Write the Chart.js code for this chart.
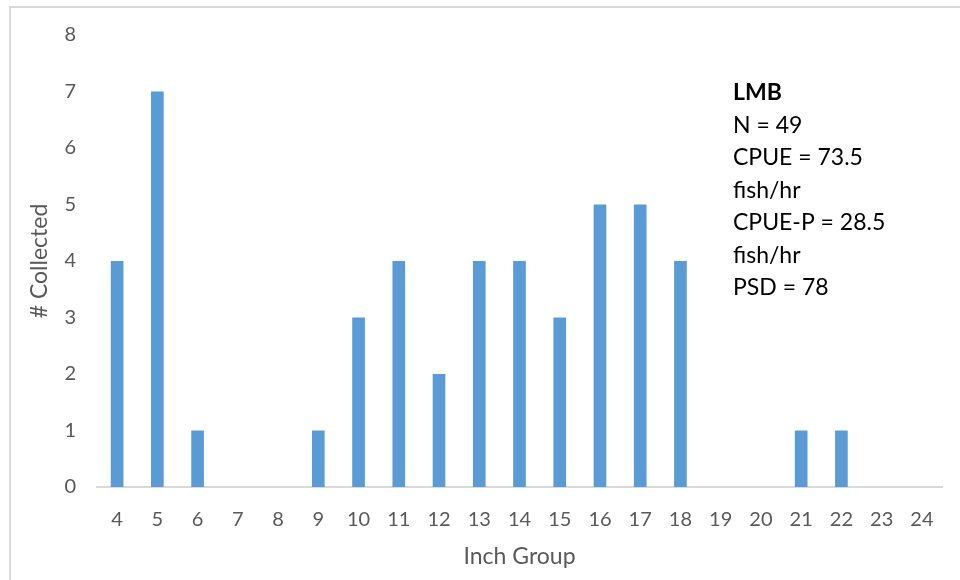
<!DOCTYPE html>
<html>
<head>
<meta charset="utf-8">
<script src="https://cdn.jsdelivr.net/npm/chart.js@4.4.0/dist/chart.umd.min.js"></script>
<style>
  html, body { margin: 0; padding: 0; background: #fff; }
  #wrap { position: relative; width: 960px; height: 580px; }
</style>
</head>
<body>
<div id="wrap"><canvas id="c" width="960" height="580"></canvas></div>
<script>
const inchGroups = ['4','5','6','7','8','9','10','11','12','13','14','15','16','17','18','19','20','21','22','23','24'];
const collected = [4, 7, 1, 0, 0, 1, 3, 4, 2, 4, 4, 3, 5, 5, 4, 0, 0, 1, 1, 0, 0];
const statsLines = ['LMB', 'N = 49', 'CPUE = 73.5', 'fish/hr', 'CPUE-P = 28.5', 'fish/hr', 'PSD = 78'];

const FONT = 'Lato, "Open Sans", sans-serif';
const GREY = '#595959';

// Frame around the chart and the stats text block
const decor = {
  id: 'decor',
  beforeDraw(chart) {
    const ctx = chart.ctx;
    ctx.save();
    ctx.fillStyle = '#fff';
    ctx.fillRect(0, 0, chart.width, chart.height);
    ctx.strokeStyle = '#d9d9d9';
    ctx.lineWidth = 2;
    ctx.strokeRect(10, 7, chart.width + 10, chart.height + 10);
    ctx.restore();
  },
  afterDraw(chart) {
    const ctx = chart.ctx;
    ctx.save();
    ctx.fillStyle = '#000';
    ctx.textBaseline = 'middle';
    ctx.textAlign = 'left';
    statsLines.forEach((t, i) => {
      ctx.font = (i === 0 ? 'bold ' : '') + '23px ' + FONT;
      ctx.fillText(t, 733, 93 + i * 32.5);
    });
    ctx.restore();
  }
};

new Chart(document.getElementById('c'), {
  type: 'bar',
  data: {
    labels: inchGroups,
    datasets: [{
      data: collected,
      backgroundColor: '#5B9BD5',
      borderWidth: 0,
      barPercentage: 0.315,
      categoryPercentage: 1.0
    }]
  },
  options: {
    responsive: false,
    animation: false,
    layout: { padding: { top: 35, right: 18, left: 26, bottom: 0 } },
    plugins: { legend: { display: false }, tooltip: { enabled: false } },
    scales: {
      x: {
        grid: { display: false, drawTicks: false },
        border: { display: true, color: '#d9d9d9', width: 2 },
        ticks: { color: GREY, font: { family: FONT, size: 20 }, padding: 21, maxRotation: 0, autoSkip: false },
        title: { display: true, text: 'Inch Group', color: GREY, font: { family: FONT, size: 23 }, padding: { top: 4, bottom: 10 } },
        afterFit(s) { s.height = 93; }
      },
      y: {
        min: 0, max: 8,
        grid: { display: false, drawTicks: false },
        border: { display: false },
        ticks: { stepSize: 1, color: GREY, font: { family: FONT, size: 20 }, padding: 21 },
        title: { display: true, text: '# Collected', color: GREY, font: { family: FONT, size: 23 }, padding: { top: 0, bottom: 0 } },
        afterFit(s) { s.width = 71; }
      }
    }
  },
  plugins: [decor]
});
</script>
</body>
</html>
